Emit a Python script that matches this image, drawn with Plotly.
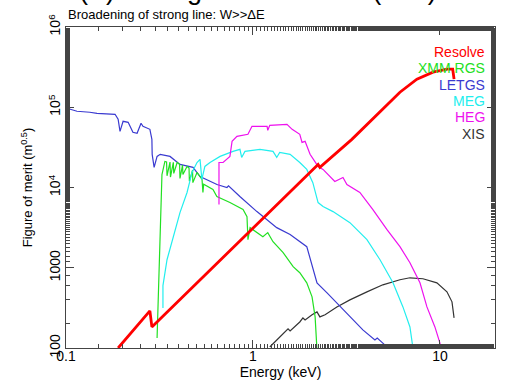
import plotly.graph_objects as go

# ---------------- data ----------------
resolve_e = [0.190, 0.281, 0.288, 2.23, 2.28, 3.38, 6.11, 7.53, 9.18, 10.9, 11.7, 11.9]
resolve_v = [100, 290, 183, 19400, 17800, 39800, 154000, 224000, 274000, 298000, 298000, 224000]

letgs_e = [0.1012, 0.1145, 0.134, 0.1466, 0.183, 0.190, 0.1945, 0.202, 0.215, 0.228, 0.240,
           0.252, 0.258, 0.281, 0.288, 0.289, 0.296, 0.307, 0.319, 0.360, 0.407, 0.478,
           0.521, 0.642, 0.726, 0.74, 0.851, 1.05, 1.34, 1.58, 1.94, 2.09, 2.20, 2.49,
           2.81, 3.30, 3.87, 4.49, 4.62, 4.95, 5.21, 5.4]
letgs_v = [97200, 89100, 86600, 84100, 81700, 70800, 50100, 66800, 64900, 48700, 47300,
           63100, 57900, 53100, 39800, 25900, 17800, 24400, 25900, 24400, 19400, 17800,
           13700, 10900, 10000, 10500, 7720, 5010, 3160, 2590, 1830, 944, 649, 487,
           365, 244, 168, 126, 133, 115, 103, 95]

rgs_e = [0.307, 0.318, 0.326, 0.338, 0.345, 0.347, 0.36, 0.362, 0.375, 0.377, 0.393,
         0.405, 0.407, 0.420, 0.422, 0.444, 0.455, 0.457, 0.475, 0.477, 0.502, 0.534,
         0.540, 0.545, 0.611, 0.641, 0.753, 0.885, 0.929, 0.940, 0.965, 1.13, 1.20,
         1.28, 1.45, 1.64, 1.78, 1.94, 2.07, 2.15, 2.20, 2.20]
rgs_v = [133, 2985, 14500, 21100, 20800, 14000, 20700, 13500, 20600, 15000, 20500,
         19500, 13000, 19000, 14500, 18300, 17500, 12000, 16500, 11500, 15400, 12600,
         8660, 11000, 9440, 7720, 6490, 5310, 4340, 2240, 3160, 2440, 2740,
         2110, 1540, 1030, 866, 649, 434, 244, 115, 94]

meg_e = [0.330, 0.330, 0.347, 0.392, 0.407, 0.444, 0.472, 0.502, 0.521, 0.533, 0.553,
         0.589, 0.667, 0.782, 0.852, 0.87, 0.906, 1.09, 1.28, 1.34, 1.39, 1.58, 1.78,
         1.94, 2.09, 2.23, 2.37, 2.68, 3.30, 4.07, 4.78, 5.61, 6.34, 6.91, 7.08, 7.2]
meg_v = [316, 600, 1259, 3650, 4870, 8660, 15400, 20500, 22400, 12600, 18300,
         20500, 24400, 28200, 29900, 23700, 28200, 29900, 28200, 23700, 27400, 25900, 20500,
         16800, 11500, 6490, 5790, 5010, 3650, 2240, 1259, 649, 325, 183, 115, 94]

heg_e = [0.658, 0.658, 0.692, 0.753, 0.773, 0.821, 0.940, 0.988, 1.19, 1.20, 1.23,
         1.52, 1.62, 1.78, 1.83, 1.90, 2.02, 2.23, 2.37, 2.58, 2.74, 3.03, 3.18,
         3.73, 4.38, 5.21, 6.11, 6.91, 7.82, 8.52, 9.40, 10.0, 10.1]
heg_v = [6130, 20500, 20500, 24400, 37600, 43400, 46000, 57900, 57900, 51600, 59600,
         61300, 53100, 46000, 36500, 37600, 25900, 18300, 16800, 13700, 11900, 13300, 10900,
         8660, 5310, 2985, 1830, 1155, 649, 325, 183, 115, 94]

xis_e = [1.23, 1.45, 1.54, 1.58, 1.78, 1.85, 1.90, 2.07, 2.20, 2.28, 2.43, 2.81, 3.30,
         4.07, 4.95, 6.11, 6.91, 8.11, 9.63, 10.9, 11.6, 11.9]
xis_v = [103, 154, 173, 163, 211, 237, 224, 259, 282, 244, 259, 325, 398,
         501, 613, 708, 750, 729, 649, 501, 376, 237]

legend_names = ["Resolve", "XMM RGS", "LETGS", "MEG", "HEG", "XIS"]
y_tickvals = [100, 1000, 1e4, 1e5, 1e6]
y_ticktext = ["100", "1000", "10<sup>4</sup>", "10<sup>5</sup>", "10<sup>6</sup>"]
x_tickvals = [0.1, 1, 10]
x_ticktext = ["0.1", "1", "10"]

# ---------------- styles ----------------
FONT = "Liberation Sans, Arial, Helvetica, sans-serif"
colors = {"Resolve": "#ff0000", "XMM RGS": "#22e022", "LETGS": "#3a3ad0",
          "MEG": "#22eeee", "HEG": "#ee11ee", "XIS": "#333333"}

fig = go.Figure()
series = [("XIS", xis_e, xis_v, 1.2), ("LETGS", letgs_e, letgs_v, 1.2),
          ("XMM RGS", rgs_e, rgs_v, 1.2), ("MEG", meg_e, meg_v, 1.2),
          ("HEG", heg_e, heg_v, 1.2), ("Resolve", resolve_e, resolve_v, 2.8)]
for name, e, v, w in series:
    fig.add_trace(go.Scatter(x=e, y=v, mode="lines", name=name,
                             line=dict(color=colors[name], width=w),
                             showlegend=False))

# legend-like labels
label_y = [52, 68, 85, 101, 117, 134]
T, B = 27, 348
for name, py in zip(legend_names, label_y):
    fig.add_annotation(x=0.982, xref="paper", xanchor="right",
                       y=(B - py) / (B - T), yref="paper", yanchor="middle",
                       text=name, showarrow=False,
                       font=dict(family=FONT, size=14, color=colors[name]))

# big cut-off title and subtitle
fig.add_annotation(x=(77 - 66) / 429, xref="paper", xanchor="left",
                   y=(B - 7) / (B - T), yref="paper", yanchor="bottom",
                   text="(V) Strong line: FOM ~ √(AE<sup>2</sup>)ΣE", showarrow=False,
                   font=dict(family=FONT, size=27, color="black"))
fig.add_annotation(x=0, xref="paper", xanchor="left",
                   y=(B - 14) / (B - T), yref="paper", yanchor="middle",
                   text="Broadening of strong line: W>>ΔE", showarrow=False,
                   font=dict(family=FONT, size=13, color="black"))

axis_common = dict(type="log", showgrid=False, zeroline=False, showline=True,
                   linecolor="#444444", linewidth=1, mirror="ticks", automargin=False,
                   ticks="inside", ticklen=8, tickcolor="#444444",
                   minor=dict(ticks="inside", ticklen=4, tickcolor="#444444", showgrid=False),
                   tickfont=dict(family=FONT, size=14, color="black"))

fig.update_xaxes(range=[-1, 1.2945], tickvals=x_tickvals, ticktext=x_ticktext,
                 ticklabelstandoff=-5,
                 title=dict(text="Energy (keV)", font=dict(family=FONT, size=14, color="black"),
                            standoff=0),
                 **axis_common)
fig.update_yaxes(range=[2, 6], tickvals=y_tickvals, ticktext=y_ticktext, tickangle=-90,
                 ticklabelstandoff=-1,
                 title=dict(text="Figure of merit (m<sup>0.5</sup>)",
                            font=dict(family=FONT, size=13, color="black"), standoff=9),
                 **axis_common)

fig.update_layout(width=506, height=383,
                  margin=dict(l=66, r=11, t=27, b=35, pad=0, autoexpand=False),
                  paper_bgcolor="white", plot_bgcolor="white",
                  font=dict(family=FONT, color="black"))

fig.write_html("out.html")
